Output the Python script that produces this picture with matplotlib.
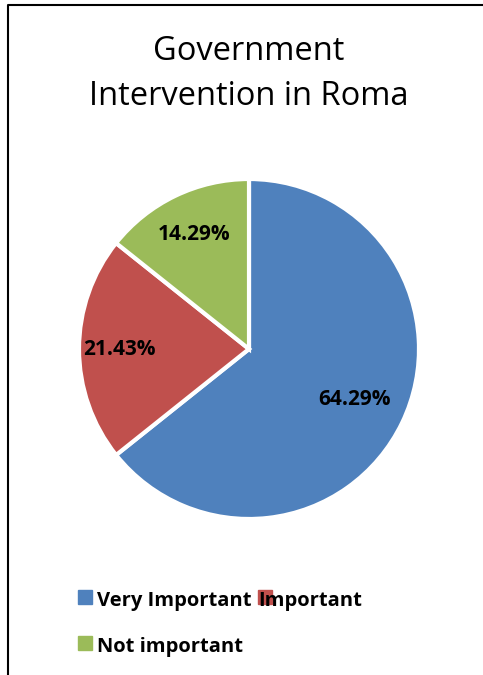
import matplotlib.pyplot as plt
from matplotlib.patches import Rectangle
from matplotlib.lines import Line2D
import numpy as np

plt.rcParams['font.family'] = ['Open Sans', 'DejaVu Sans']

title_lines = ["Government", "Intervention in Roma"]
labels = ["Very Important", "Important", "Not important"]
shares = [64.29, 21.43, 14.29]
colors = ["#4F81BD", "#C0504D", "#9BBB59"]
label_dist = [0.69, 0.76, 0.75]

W, H = 483, 675
fig = plt.figure(figsize=(W / 100, H / 100), dpi=100)

# pie area, in pixel units converted to figure fractions
cx, cy, r = 249, 349, 170
ax = fig.add_axes([(cx - r) / W, 1 - (cy + r) / H, 2 * r / W, 2 * r / H])
wedges, _ = ax.pie(shares, colors=colors, startangle=90, counterclock=False,
                   radius=1, wedgeprops=dict(edgecolor="white", linewidth=3))
ax.set_xlim(-1, 1)
ax.set_ylim(-1, 1)
ax.set_aspect("equal")
ax.axis("off")

# percentage labels inside each slice
for w, v, d in zip(wedges, shares, label_dist):
    mid = np.deg2rad((w.theta1 + w.theta2) / 2)
    ax.text(d * np.cos(mid), d * np.sin(mid), f"{v:.2f}%",
            ha="center", va="center", fontsize=15, fontweight="bold")

# two-line title, baselines placed separately
for line, base in zip(title_lines, [60, 105]):
    fig.text(249 / W, 1 - base / H, line, ha="center", va="baseline", fontsize=23.5)

# legend drawn by hand: two entries on the first row, one on the second
sq = 14
boxes = [(78, 590), (258, 590), (78, 636)]
text_pos = [(97, 606), (258, 606), (97, 652)]
for (bx, by), (tx, ty), lab, col in zip(boxes, text_pos, labels, colors):
    fig.patches.append(Rectangle((bx / W, 1 - (by + sq) / H), sq / W, sq / H,
                                 transform=fig.transFigure, color=col, zorder=1))
    fig.text(tx / W, 1 - ty / H, lab, ha="left", va="baseline",
             fontsize=14.5, fontweight="bold", zorder=2)

# chart frame (left and top edges)
fig.lines.append(Line2D([8 / W, 8 / W, 1], [0, 1 - 5 / H, 1 - 5 / H],
                        transform=fig.transFigure, color="black", linewidth=1.5))

fig.savefig("out.png", dpi=100)
